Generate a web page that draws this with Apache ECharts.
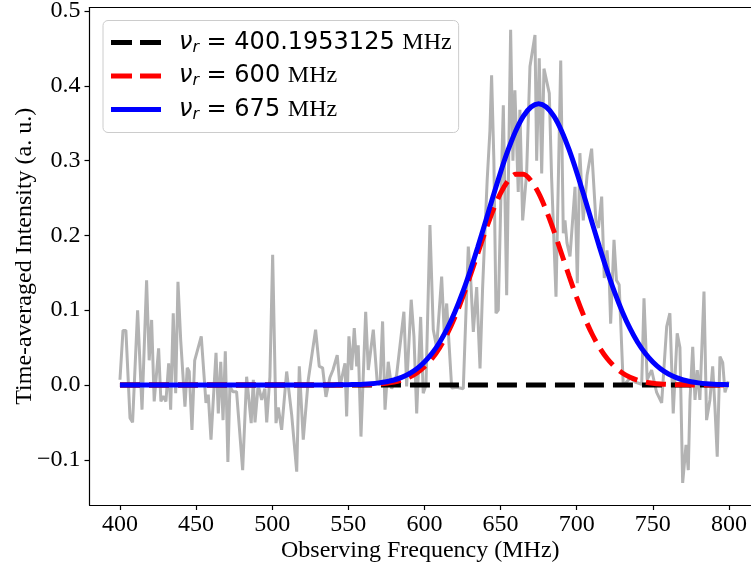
<!DOCTYPE html>
<html><head><meta charset="utf-8">
<script src="https://cdn.jsdelivr.net/npm/echarts@6/dist/echarts.min.js"></script>
<style>html,body{margin:0;padding:0;background:#fff}#c{width:751px;height:571px}</style>
</head><body><div id="c"></div>
<script>
// Tick labels
const xTicks = [400, 450, 500, 550, 600, 650, 700, 750, 800];
const yTicks = [-0.1, 0.0, 0.1, 0.2, 0.3, 0.4, 0.5];

// Noisy observed spectrum (gray)
const noiseFreq = [400.0,402.0,403.9,406.6,408.3,411.6,414.5,417.5,419.2,420.8,422.5,425.4,426.9,428.4,430.2,432.0,433.3,435.0,436.6,438.1,439.9,442.7,444.2,445.5,447.3,449.1,450.4,453.4,456.5,458.0,459.8,463.1,464.6,466.2,467.7,469.2,470.9,472.2,474.2,476.6,480.6,483.2,486.2,487.6,488.7,490.8,493.1,495.2,496.4,498.5,500.3,502.5,504.0,506.2,509.5,512.8,516.1,517.8,520.4,523.7,528.5,530.9,533.1,535.3,537.9,539.9,542.7,544.5,547.8,548.9,550.4,552.2,553.9,555.5,556.5,558.3,561.4,563.1,566.4,569.0,570.8,572.5,574.1,576.2,578.5,581.7,586.5,588.3,591.3,593.1,594.9,597.5,599.2,601.0,603.6,605.8,608.0,611.3,613.0,614.6,616.3,617.9,621.2,625.5,628.8,630.4,632.1,634.3,636.5,638.2,639.7,641.2,643.0,644.1,645.6,647.0,648.5,650.2,651.8,654.0,656.6,658.1,659.4,661.6,662.7,664.5,667.1,669.3,672.6,673.7,675.4,677.0,678.5,682.0,683.5,686.4,689.5,691.2,692.3,693.6,695.6,698.9,700.4,702.1,704.3,706.8,709.8,712.6,714.3,716.4,718.1,719.9,721.4,722.3,724.5,726.1,727.9,730.6,732.8,735.4,738.3,742.7,744.2,746.3,749.2,752.5,755.8,759.1,761.2,763.4,766.0,767.8,769.6,771.8,773.3,774.4,776.2,777.7,779.2,780.9,783.6,785.3,787.5,789.3,790.8,792.3,794.1,795.9,797.4,799.5];
const noiseVal = [0.007,0.073,0.073,-0.044,-0.050,0.100,-0.033,0.140,0.033,0.087,-0.022,0.049,-0.022,-0.015,-0.022,0.029,-0.033,0.096,-0.011,0.138,0.060,-0.029,0.023,0.018,-0.060,0.033,0.033,0.065,-0.024,-0.013,-0.073,0.043,-0.038,0.031,-0.047,0.045,-0.103,-0.002,-0.009,-0.009,-0.114,0.011,-0.051,0.007,-0.050,0.000,-0.020,-0.005,-0.050,0.011,0.174,-0.051,-0.030,-0.060,0.018,-0.040,-0.116,0.025,-0.073,0.007,0.074,0.025,0.023,-0.016,0.010,0.020,0.040,-0.002,0.029,-0.042,0.065,0.020,0.076,0.025,0.053,-0.069,0.098,0.020,0.074,0.003,0.000,0.085,-0.033,0.031,-0.005,0.013,0.098,-0.002,0.114,0.065,-0.038,0.091,-0.011,0.000,0.214,0.074,0.050,0.145,0.070,0.109,0.050,-0.004,-0.003,-0.005,0.185,0.140,0.071,0.131,0.022,0.130,0.203,0.274,0.340,0.414,0.300,0.096,0.100,0.250,0.374,0.120,0.475,0.300,0.394,0.258,0.368,0.220,0.283,0.426,0.468,0.300,0.437,0.283,0.423,0.390,0.278,0.118,0.434,0.203,0.220,0.190,0.172,0.265,0.136,0.310,0.220,0.280,0.316,0.220,0.210,0.252,0.143,0.180,0.140,0.082,0.194,0.140,0.134,-0.002,0.004,0.010,0.004,0.001,0.116,0.007,0.020,-0.010,-0.024,0.078,0.096,-0.038,0.069,0.050,-0.131,-0.080,-0.114,-0.020,0.051,-0.020,0.020,-0.020,0.125,-0.047,-0.020,0.025,-0.030,-0.096,0.038,0.030,-0.010,0.005];

// Model curves sampled every 5 MHz
const modelFreq = [400,405,410,415,420,425,430,435,440,445,450,455,460,465,470,475,480,485,490,495,500,505,510,515,520,525,530,535,540,545,550,555,560,565,570,575,580,585,590,595,600,605,610,615,620,625,630,635,640,645,650,655,660,665,670,675,680,685,690,695,700,705,710,715,720,725,730,735,740,745,750,755,760,765,770,775,780,785,790,795,800];
const model600 = [0,0,0,0,0,0,0,0,0,0,0,0,0,0,0,0,0,0,0,0,0,0,0,0,0,0,0,0,0,0,0.0001,0.0002,0.0004,0.0007,0.0013,0.0023,0.0039,0.0065,0.0104,0.0161,0.0243,0.0354,0.0500,0.0685,0.0909,0.1169,0.1457,0.1759,0.2059,0.2334,0.2565,0.2732,0.2819,0.2819,0.2732,0.2565,0.2334,0.2059,0.1759,0.1457,0.1169,0.0909,0.0685,0.0500,0.0354,0.0243,0.0161,0.0104,0.0065,0.0039,0.0023,0.0013,0.0007,0.0004,0.0002,0.0001,0,0,0,0,0];
const model675 = [0,0,0,0,0,0,0,0,0,0,0,0,0,0,0,0,0,0,0,0,0,0,0,0,0,0,0,0,0.0001,0.0002,0.0004,0.0006,0.0010,0.0017,0.0028,0.0044,0.0067,0.0102,0.0150,0.0217,0.0307,0.0424,0.0572,0.0756,0.0977,0.1234,0.1525,0.1843,0.2178,0.2518,0.2846,0.3146,0.3401,0.3596,0.3718,0.3760,0.3718,0.3596,0.3401,0.3146,0.2846,0.2518,0.2178,0.1843,0.1525,0.1234,0.0977,0.0756,0.0572,0.0424,0.0307,0.0217,0.0150,0.0102,0.0067,0.0044,0.0028,0.0017,0.0010,0.0006,0.0004];
const model400Freq = [400, 800];
const model400 = [0, 0];

const legendNames = ['r400', 'r600', 'r675'];
const legendValues = {r400: '400.1953125', r600: '600', r675: '675'};

const zip = (a, b) => a.map((v, i) => [v, b[i]]);
const serif = 'Liberation Serif';
const dashIcon = 'path://M0,0h21v5h-21zM29,0h21v5h-21z';
const solidIcon = 'path://M0,0h50v5h-50z';

const xMin = 380, xMax = 814.48;
const chart = echarts.init(document.getElementById('c'), null, {renderer: 'canvas'});
chart.setOption({
  animation: false,
  backgroundColor: '#fff',
  grid: {left: 89.5, right: 0, top: 7.5, bottom: 66, containLabel: false, outerBoundsMode: 'none'},
  xAxis: [{
    type: 'value', min: xMin, max: xMax,
    name: 'Observing Frequency (MHz)', nameLocation: 'middle', nameGap: 34, nameMoveOverlap: false,
    nameTextStyle: {fontFamily: serif, fontSize: 24, color: '#000'},
    axisLine: {onZero: false, lineStyle: {color: '#000', width: 1.2}},
    axisTick: {customValues: xTicks, length: 5, lineStyle: {color: '#000', width: 1.2}},
    axisLabel: {customValues: xTicks, margin: 8, color: '#000', fontFamily: serif, fontSize: 24},
    splitLine: {show: false}
  }, {
    type: 'value', min: xMin, max: xMax, position: 'top',
    axisLine: {show: true, onZero: false, lineStyle: {color: '#000', width: 1.2}},
    axisTick: {show: false}, axisLabel: {show: false}, splitLine: {show: false}
  }],
  yAxis: {
    type: 'value', min: -0.1605, max: 0.5048,
    name: 'Time-averaged Intensity (a. u.)', nameLocation: 'middle', nameGap: 53, nameMoveOverlap: false,
    nameTextStyle: {fontFamily: serif, fontSize: 24, color: '#000'},
    axisLine: {onZero: false, lineStyle: {color: '#000', width: 1.2}},
    axisTick: {customValues: yTicks, length: 5, lineStyle: {color: '#000', width: 1.2}},
    axisLabel: {customValues: yTicks, margin: 9, color: '#000', fontFamily: serif, fontSize: 24,
      formatter: v => (v < -1e-9 ? '\u2212' : '') + Math.abs(v).toFixed(1)},
    splitLine: {show: false}
  },
  legend: {
    orient: 'vertical', left: 103, top: 20.5,
    data: [
      {name: 'r400', icon: dashIcon, itemStyle: {color: '#000'}},
      {name: 'r600', icon: dashIcon, itemStyle: {color: '#ff0000'}},
      {name: 'r675', icon: solidIcon, itemStyle: {color: '#0000ff'}}
    ],
    itemWidth: 50, itemHeight: 5, itemGap: 8.5,
    padding: [10, 7, 10, 8],
    backgroundColor: 'rgba(255,255,255,0.85)', borderColor: '#cccccc', borderWidth: 1, borderRadius: 5,
    selectedMode: false,
    formatter: name => '{nu|\u03bd}{sub|r}{eq| = ' + legendValues[name] + ' }{u|MHz}',
    textStyle: {
      color: '#000',
      rich: {
        nu: {fontFamily: 'DejaVu Sans', fontStyle: 'italic', fontSize: 24, lineHeight: 26, padding: [0, 0, 0, 13], color: '#000'},
        sub: {fontFamily: 'DejaVu Sans', fontStyle: 'italic', fontSize: 16, lineHeight: 12, verticalAlign: 'bottom', color: '#000'},
        eq: {fontFamily: 'DejaVu Sans', fontSize: 24, lineHeight: 26, color: '#000'},
        u: {fontFamily: serif, fontSize: 24, lineHeight: 26, color: '#000'}
      }
    }
  },
  series: [
    {type: 'line', name: 'obs', data: zip(noiseFreq, noiseVal), symbol: 'none', showSymbol: false,
     lineStyle: {color: '#b3b3b3', width: 3}, itemStyle: {color: '#b3b3b3'}, silent: true, z: 2},
    {type: 'line', name: 'r400', data: zip(model400Freq, model400), symbol: 'none',
     lineStyle: {color: '#000', width: 5, type: [20, 9]}, itemStyle: {color: '#000'}, z: 3},
    {type: 'line', name: 'r600', data: zip(modelFreq, model600), symbol: 'none', smooth: 0.3,
     lineStyle: {color: '#ff0000', width: 5, type: [20, 9]}, itemStyle: {color: '#ff0000'}, z: 4},
    {type: 'line', name: 'r675', data: zip(modelFreq, model675), symbol: 'none', smooth: 0.3,
     lineStyle: {color: '#0000ff', width: 5}, itemStyle: {color: '#0000ff'}, z: 5}
  ]
});
</script></body></html>
